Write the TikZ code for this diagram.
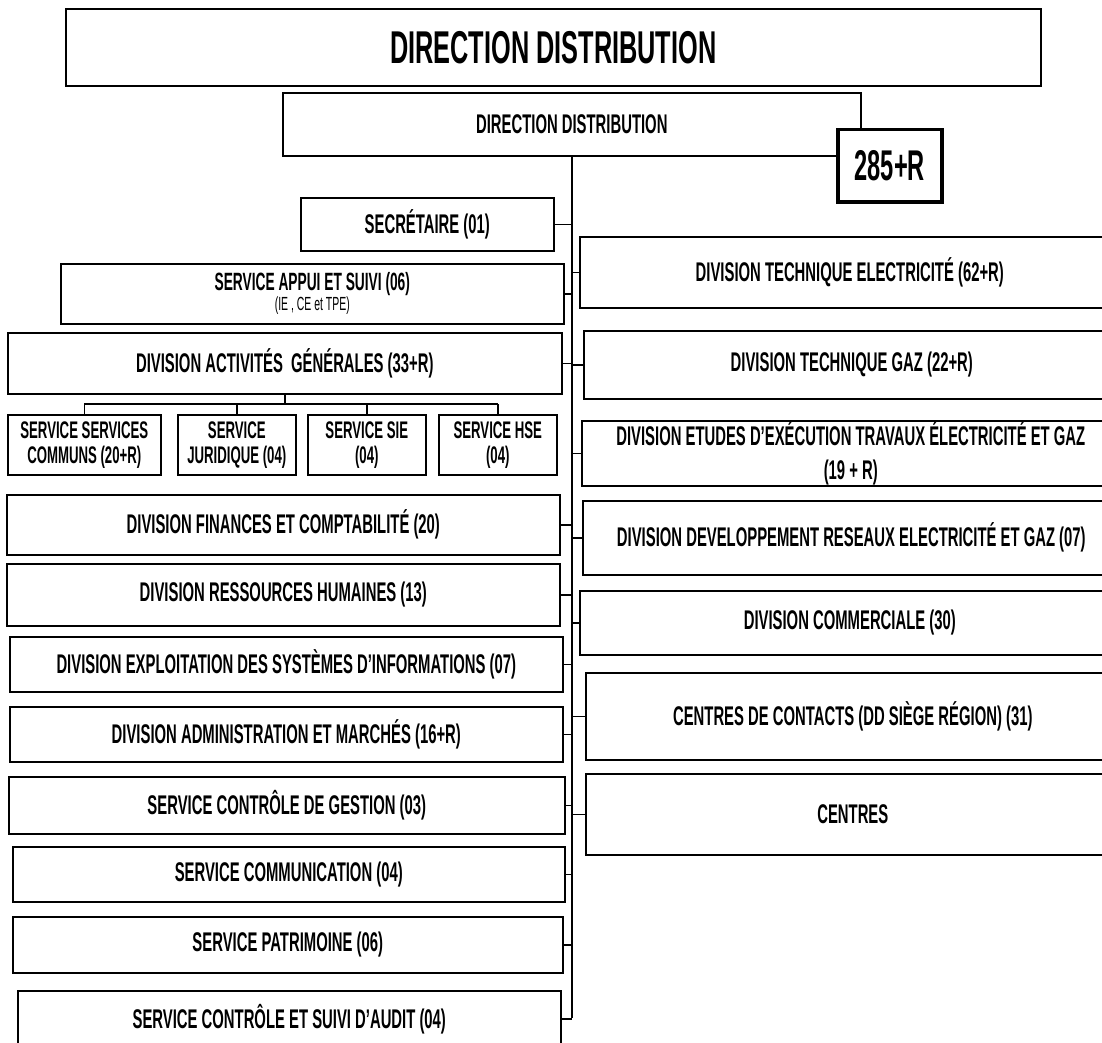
\documentclass[tikz,border=0pt]{standalone}
\usepackage{fontspec}
\setmainfont{Liberation Sans}[FakeStretch=0.55]

\begin{document}
\begin{tikzpicture}[x=1pt, y=-1pt,
		unitbox/.style={rectangle,draw,line width=1.6pt,anchor=north west,inner sep=0pt,align=center,
			font=\fontsize{27}{27}\selectfont\bfseries},
		smallbox/.style={unitbox,font=\fontsize{24}{25}\selectfont\bfseries},
		countbox/.style={rectangle,draw,line width=3.5pt,fill=white,anchor=north west,inner sep=0pt,
			font=\fontsize{43}{43}\selectfont\bfseries},
		link/.style={line width=1.6pt}
		]
		\useasboundingbox (0,0) rectangle (1102,1043);
		\clip (0,0) rectangle (1102,1043);

		\node[unitbox, minimum width=975pt, minimum height=77pt, font=\fontsize{46}{46}\selectfont\bfseries](D0) at (65,8){DIRECTION DISTRIBUTION};
		\node[unitbox, minimum width=578pt, minimum height=63pt](D1) at (282,92){DIRECTION DISTRIBUTION};

		\node[unitbox, minimum width=253pt, minimum height=53pt](L1) at (300,197){SECRÉTAIRE (01)};
		\node[unitbox, minimum width=503pt, minimum height=60pt, font=\fontsize{25}{25}\selectfont\bfseries](L2) at (60,263){SERVICE APPUI ET SUIVI (06)\\[-5pt]
			{\fontsize{19}{19}\selectfont\mdseries (IE , CE et TPE)}};
		\node[unitbox, minimum width=554pt, minimum height=61pt](L3) at (7,332){DIVISION ACTIVITÉS\ \ GÉNÉRALES (33+R)};
		\node[unitbox, minimum width=553pt, minimum height=60pt](L4) at (6,494){DIVISION FINANCES ET COMPTABILITÉ (20)};
		\node[unitbox, minimum width=553pt, minimum height=62pt](L5) at (6,563){DIVISION RESSOURCES HUMAINES (13)};
		\node[unitbox, minimum width=553pt, minimum height=55pt](L6) at (9,636){DIVISION EXPLOITATION DES SYSTÈMES D’INFORMATIONS (07)};
		\node[unitbox, minimum width=553pt, minimum height=55pt](L7) at (9,706){DIVISION ADMINISTRATION ET MARCHÉS (16+R)};
		\node[unitbox, minimum width=556pt, minimum height=57pt](L8) at (8,776){SERVICE CONTRÔLE DE GESTION (03)};
		\node[unitbox, minimum width=552pt, minimum height=55pt](L9) at (12,846){SERVICE COMMUNICATION (04)};
		\node[unitbox, minimum width=550pt, minimum height=56pt](L10) at (12,916){SERVICE PATRIMOINE (06)};
		\node[unitbox, minimum width=543pt, minimum height=56pt](L11) at (17,990){SERVICE CONTRÔLE ET SUIVI D’AUDIT (04)};

		\node[smallbox, minimum width=153pt, minimum height=60pt](S1) at (7,414){SERVICE SERVICES\\COMMUNS (20+R)};
		\node[smallbox, minimum width=118pt, minimum height=60pt](S2) at (177,414){SERVICE\\JURIDIQUE (04)};
		\node[smallbox, minimum width=118pt, minimum height=60pt](S3) at (307,414){SERVICE SIE\\(04)};
		\node[smallbox, minimum width=118pt, minimum height=60pt](S4) at (438,414){SERVICE HSE\\(04)};

		\node[unitbox, minimum width=540pt, minimum height=71pt](R1) at (579,236){DIVISION TECHNIQUE ELECTRICITÉ (62+R)};
		\node[unitbox, minimum width=536pt, minimum height=68pt](R2) at (583,330){DIVISION TECHNIQUE GAZ (22+R)};
		\node[unitbox, minimum width=538pt, minimum height=65pt, font=\fontsize{27}{34}\selectfont\bfseries](R3) at (581,420){\smash{DIVISION ETUDES D’EXÉCUTION TRAVAUX ÉLECTRICITÉ ET GAZ}\rule{0pt}{24pt}\\(19 + R)};
		\node[unitbox, minimum width=537pt, minimum height=74pt](R4) at (582,500){DIVISION DEVELOPPEMENT RESEAUX ELECTRICITÉ ET GAZ (07)};
		\node[unitbox, minimum width=540pt, minimum height=64pt](R5) at (579,590){DIVISION COMMERCIALE (30)};
		\node[unitbox, minimum width=534pt, minimum height=87pt](R6) at (585,672){CENTRES DE CONTACTS (DD SIÈGE RÉGION) (31)};
		\node[unitbox, minimum width=534pt, minimum height=81pt](R7) at (585,773){CENTRES};

		\coordinate (bottom) at (0,1018);
		\coordinate (bus) at (0,404);
		\draw[link] (D1.south) -- (D1.south |- bottom);
		\foreach \n in {L1,L2,L3,L4,L5,L6,L7,L8,L9,L10,L11}
			\draw[link] (\n.east) -- (\n.east -| D1.south);
		\foreach \n in {R1,R2,R3,R4,R5,R6,R7}
			\draw[link] (\n.west) -- (\n.west -| D1.south);

		\draw[link] (L3.south) -- (L3.south |- bus);
		\draw[link] (S1.north |- bus) -- (S4.north |- bus);
		\foreach \n in {S1,S2,S3,S4}
			\draw[link] (\n.north) -- (\n.north |- bus);

		\node[countbox, minimum width=104pt, minimum height=72pt](N) at (836,128){285+R};

	\end{tikzpicture}
\end{document}
